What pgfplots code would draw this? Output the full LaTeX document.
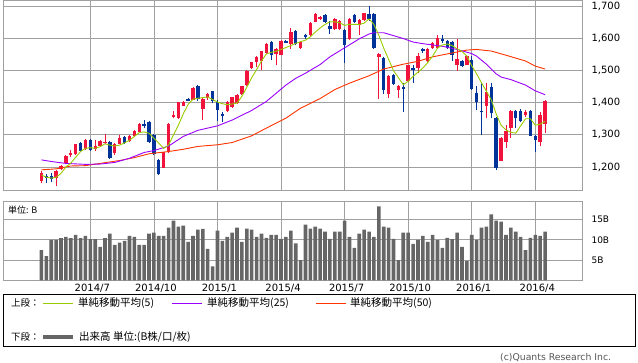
\documentclass[border=0pt]{standalone}
\usepackage{fontspec}
\setmainfont{DejaVu Sans}
\newfontfamily\jp{Noto Sans CJK JP}
\usepackage{pgfplots}
\usepackage{pgfplotstable}
\pgfplotsset{compat=1.18}
\definecolor{cup}{RGB}{240,20,60}
\definecolor{cdn}{RGB}{0,51,153}
\definecolor{mafive}{RGB}{153,204,0}
\definecolor{matwentyfive}{RGB}{153,0,255}
\definecolor{mafifty}{RGB}{255,51,0}
\definecolor{gridc}{RGB}{160,160,160}
\definecolor{volc}{RGB}{102,102,102}
\definecolor{copyc}{RGB}{85,85,85}

\pgfplotstableread{
x O H L C
0 1157 1186 1150 1182
3 1167 1190 1142 1188
4 1193 1207 1190 1204
5 1211 1237 1208 1235
6 1237 1252 1230 1242
7 1239 1272 1237 1270
9 1255 1288 1252 1284
11 1255 1284 1251 1266
12 1266 1283 1264 1280
13 1276 1302 1273 1279
15 1243 1274 1238 1272
16 1272 1300 1270 1290
18 1280 1300 1278 1295
19 1295 1314 1292 1312
20 1309 1336 1306 1333
25 1198 1248 1196 1245
26 1250 1337 1243 1334
27 1357 1375 1353 1362
28 1352 1403 1350 1401
29 1391 1406 1389 1403
31 1409 1448 1407 1446
33 1380 1414 1345 1412
34 1416 1431 1410 1428
38 1373 1404 1370 1402
39 1387 1419 1384 1417
40 1399 1428 1396 1423
41 1428 1453 1425 1451
42 1456 1502 1453 1500
43 1508 1528 1505 1526
44 1526 1545 1510 1542
45 1531 1562 1503 1560
46 1555 1586 1552 1583
48 1552 1570 1516 1566
49 1550 1594 1548 1592
51 1583 1633 1568 1620
53 1571 1592 1568 1588
55 1610 1650 1607 1647
56 1653 1678 1650 1675
57 1662 1671 1659 1668
60 1630 1664 1627 1661
61 1630 1657 1627 1654
63 1597 1664 1594 1661
65 1642 1662 1611 1659
66 1657 1681 1654 1678
69 1543 1556 1412 1553
71 1427 1485 1415 1482
73 1441 1456 1416 1453
75 1467 1519 1464 1516
77 1508 1555 1492 1547
79 1529 1569 1526 1566
80 1571 1589 1568 1586
81 1571 1610 1568 1602
85 1519 1597 1500 1536
87 1519 1548 1516 1545
91 1391 1461 1352 1432
94 1220 1293 1217 1290
95 1279 1331 1258 1312
96 1321 1378 1289 1375
99 1362 1378 1354 1370
102 1279 1372 1265 1362
103 1334 1409 1305 1406
}\upc

\pgfplotstableread{
x O H L C
1 1172 1178 1151 1165
2 1172 1180 1152 1162
8 1274 1278 1245 1251
10 1284 1287 1250 1253
14 1279 1282 1224 1228
17 1292 1296 1273 1276
21 1334 1346 1320 1328
22 1340 1342 1274 1279
23 1300 1303 1238 1241
24 1222 1225 1175 1177
30 1412 1415 1404 1406
32 1453 1456 1405 1412
35 1435 1438 1400 1406
36 1401 1410 1344 1378
37 1366 1372 1340 1359
47 1588 1592 1534 1550
50 1592 1596 1585 1587
52 1622 1625 1580 1583
54 1610 1614 1600 1604
58 1672 1675 1648 1651
59 1640 1655 1615 1630
62 1628 1631 1524 1581
64 1672 1675 1649 1652
67 1675 1702 1655 1662
68 1675 1678 1568 1571
70 1540 1543 1428 1441
72 1487 1490 1456 1459
74 1448 1460 1370 1443
76 1508 1516 1462 1503
78 1568 1572 1556 1560
82 1598 1610 1586 1592
83 1592 1595 1568 1571
84 1588 1591 1531 1550
86 1529 1532 1510 1513
88 1532 1545 1441 1443
89 1430 1451 1378 1401
90 1375 1460 1300 1370
92 1449 1462 1352 1368
93 1352 1355 1190 1196
97 1375 1378 1321 1352
98 1375 1380 1339 1342
100 1375 1378 1297 1297
101 1297 1300 1248 1284
}\dnc

\pgfplotstableread{
x v
0 7.5
1 6.0
2 10.0
3 10.0
4 10.4
5 10.75
6 10.4
7 11.25
8 10.4
9 11.0
10 10.2
11 10.2
12 8.25
13 10.4
14 11.5
15 8.75
16 9.3
17 9.75
18 11.0
19 10.7
20 8.75
21 8.75
22 11.5
23 11.75
24 11.0
25 11.0
26 13.0
27 14.75
28 13.25
29 13.5
30 9.5
31 11.0
32 12.5
33 12.7
34 7.75
35 3.5
36 12.25
37 9.75
38 10.75
39 11.75
40 13.0
41 9.5
42 12.75
43 12.5
44 10.75
45 11.5
46 10.5
47 11.25
48 11.25
49 10.25
50 10.75
51 12.25
52 9.1
53 5.0
54 13.75
55 12.75
56 13.25
57 12.75
58 12.0
59 10.25
60 12.0
61 12.0
62 14.75
63 10.75
64 8.0
65 11.5
66 12.5
67 12.0
68 10.75
69 18.25
70 13.25
71 13.0
72 10.25
73 5.0
74 11.75
75 11.75
76 9.0
77 10.0
78 11.0
79 9.5
80 11.25
81 10.0
82 8.0
83 10.5
84 10.2
85 11.75
86 8.25
87 4.8
88 11.25
89 10.0
90 13.0
91 13.25
92 16.25
93 14.75
94 14.5
95 11.25
96 13.0
97 12.0
98 10.75
99 7.5
100 10.5
101 11.25
102 11.0
103 12.0
}\vol

\begin{document}
\begin{tikzpicture}[x=1pt,y=1pt]
\path[use as bounding box] (0,0) rectangle (638,362);

% ---------- upper panel ----------
\begin{axis}[
  at={(3.3pt,171.3pt)}, anchor=south west, scale only axis,
  width=578.7pt, height=190.7pt,
  xmin=-7.8, xmax=110.55, ymin=1126, ymax=1720,
  axis line style={draw=gridc, line width=0.8pt},
  xtick={10,23,36,49,62,75,88,101}, xticklabels={},
  ytick={1200,1300,1400,1500,1600,1700},
  yticklabel pos=right,
  /pgf/number format/assume math mode=true,
  /pgf/number format/1000 sep={,},
  yticklabel style={font=\fontsize{10}{12}\selectfont, anchor=west, xshift=6pt},
  major tick length=0pt,
  grid=major, major grid style={draw=gridc, line width=0.8pt},
  candle/.style={draw=none, mark=none, forget plot,
    error bars/y dir=plus, error bars/y explicit, error bars/error mark=none},
]
% wicks
\addplot[candle, error bars/error bar style={draw=cup, line width=0.9pt}]
  table[x=x, y=L, y error plus expr=\thisrow{H}-\thisrow{L}] {\upc};
\addplot[candle, error bars/error bar style={draw=cdn, line width=0.9pt}]
  table[x=x, y=L, y error plus expr=\thisrow{H}-\thisrow{L}] {\dnc};
% bodies
\addplot[candle, error bars/error bar style={draw=cup, line width=3.4pt}]
  table[x=x, y=O, y error plus expr=\thisrow{C}-\thisrow{O}] {\upc};
\addplot[candle, error bars/error bar style={draw=cdn, line width=3.4pt}]
  table[x=x, y=C, y error plus expr=\thisrow{O}-\thisrow{C}] {\dnc};
% moving averages
\addplot[mafifty, line width=0.9pt, mark=none] coordinates {
(0,1191) (3,1194) (6,1203) (9,1204) (12,1211) (16,1220) (19,1229) (22,1241)
(26,1248) (29,1255) (32,1264) (36,1269) (39,1276) (43,1297) (46,1321) (50,1352)
(53,1383) (57,1413) (60,1441) (63,1461) (67,1484) (70,1505) (74,1520) (77,1529)
(80,1543) (84,1555) (87,1564) (89,1566) (92,1561) (95,1548) (99,1530) (101,1514) (103,1505)};
\addplot[matwentyfive, line width=0.9pt, mark=none] coordinates {
(0,1222) (2,1217) (5,1211) (9,1208) (12,1209) (15,1214) (18,1227) (21,1245)
(23,1251) (26,1265) (29,1295) (32,1314) (36,1328) (39,1346) (43,1376) (46,1404)
(50,1455) (52,1476) (54,1492) (57,1519) (59,1543) (62,1571) (65,1599) (67,1614)
(68,1618) (70,1618) (72,1609) (74,1600) (76,1589) (78,1584) (82,1576) (85,1566)
(88,1553) (89,1545) (91,1520) (93,1490) (94,1480) (96,1472) (99,1455) (101,1437) (103,1425)};
\addplot[mafive, line width=0.9pt, mark=none] coordinates {
(0,1175) (1,1168) (2,1165) (3,1168) (4,1180) (5,1200) (6,1212) (7,1230) (8,1248)
(9,1258) (10,1260) (11,1258) (12,1263) (13,1272) (14,1268) (15,1265) (16,1268)
(17,1275) (18,1283) (19,1295) (20,1307) (21,1309) (22,1305) (23,1290) (24,1274)
(25,1258) (26,1268) (27,1300) (28,1330) (29,1365) (30,1395) (31,1411) (32,1414)
(33,1416) (34,1418) (35,1410) (36,1402) (37,1397) (38,1394) (39,1396) (40,1399)
(41,1420) (42,1448) (43,1478) (44,1503) (45,1530) (46,1552) (47,1557) (48,1560)
(49,1566) (50,1572) (51,1578) (52,1585) (53,1590) (54,1595) (55,1605) (56,1620)
(57,1633) (58,1644) (59,1652) (60,1652) (61,1649) (62,1641) (63,1644) (64,1644)
(65,1644) (66,1648) (67,1661) (68,1644) (69,1610) (70,1570) (71,1535) (72,1500)
(73,1478) (74,1456) (75,1467) (76,1482) (77,1495) (78,1508) (79,1525) (80,1545)
(81,1570) (82,1580) (83,1583) (84,1578) (85,1568) (86,1560) (87,1545) (88,1515)
(89,1490) (90,1462) (91,1436) (92,1409) (93,1365) (94,1330) (95,1315) (96,1308)
(97,1305) (98,1328) (99,1350) (100,1350) (101,1330) (102,1333) (103,1342)};
\end{axis}

% ---------- lower panel ----------
\begin{axis}[
  at={(3.3pt,81.5pt)}, anchor=south west, scale only axis,
  width=578.7pt, height=79.5pt,
  xmin=-7.8, xmax=110.55, ymin=0, ymax=19.55,
  axis line style={draw=gridc, line width=0.8pt},
  xtick={10,23,36,49,62,75,88,101},
  xticklabels={2014/7,2014/10,2015/1,2015/4,2015/7,2015/10,2016/1,2016/4},
  xticklabel style={font=\fontsize{10}{12}\selectfont, xshift=2pt},
  ytick={5,10,15}, yticklabels={5B,10B,15B},
  yticklabel pos=right,
  yticklabel style={font=\fontsize{9}{11}\selectfont, anchor=west, xshift=6pt},
  major tick length=0pt,
  grid=major, major grid style={draw=gridc, line width=0.8pt},
]
\addplot[ybar, bar width=3.6pt, fill=volc, draw=none] table[x=x, y=v] {\vol};
\end{axis}

\node[anchor=west, font=\jp\fontsize{9}{11}\selectfont, inner sep=0pt] at (8,152) {単位: B};

% ---------- legend ----------
\draw[black, line width=0.8pt] (3.3,16) rectangle (635,68);
\node[anchor=west, font=\jp\fontsize{9.5}{11}\selectfont, inner sep=0pt] at (11,59) {上段：};
\draw[mafive, line width=0.9pt] (43,59) -- (73,59);
\node[anchor=west, font=\jp\fontsize{10.5}{12}\selectfont, inner sep=0pt] at (78,59) {単純移動平均(5)};
\draw[matwentyfive, line width=0.9pt] (172,59) -- (202,59);
\node[anchor=west, font=\jp\fontsize{10.5}{12}\selectfont, inner sep=0pt] at (207,59) {単純移動平均(25)};
\draw[mafifty, line width=0.9pt] (316,59) -- (346,59);
\node[anchor=west, font=\jp\fontsize{10.5}{12}\selectfont, inner sep=0pt] at (350,59) {単純移動平均(50)};
\node[anchor=west, font=\jp\fontsize{9.5}{11}\selectfont, inner sep=0pt] at (11,25) {下段：};
\draw[volc, line width=4pt] (43,25) -- (73,25);
\node[anchor=west, font=\jp\fontsize{10.5}{12}\selectfont, inner sep=0pt] at (79,25) {出来高 単位:(B株/口/枚)};

\node[anchor=base west, font=\fontsize{9.3}{11}\selectfont, text=copyc, inner sep=0pt] at (500,1.5) {(c)Quants Research Inc.};
\end{tikzpicture}
\end{document}
